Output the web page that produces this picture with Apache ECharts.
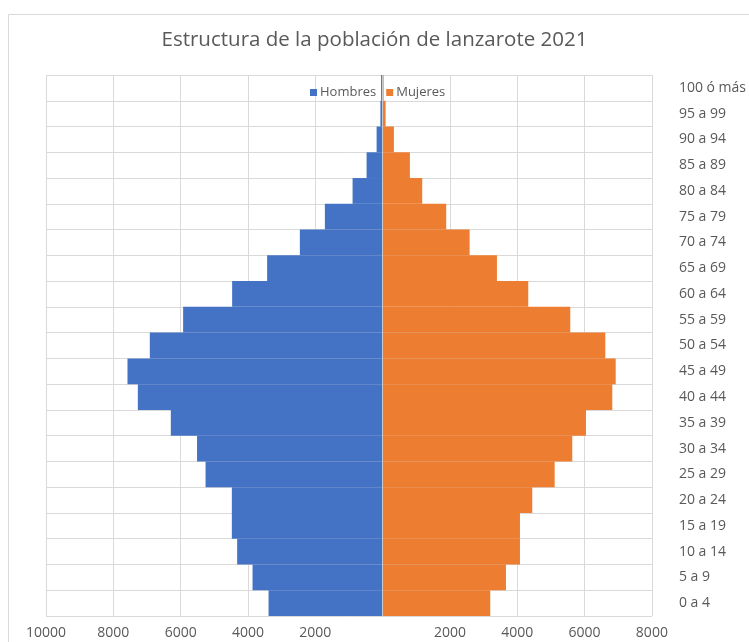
<!DOCTYPE html>
<html>
<head>
<meta charset="utf-8">
<script src="https://cdn.jsdelivr.net/npm/echarts@6/dist/echarts.min.js"></script>
<style>html,body{margin:0;padding:0;background:#fff}#c{width:749px;height:642px}</style>
</head>
<body>
<div id="c"></div>
<script>
var categories = ['0 a 4','5 a 9','10 a 14','15 a 19','20 a 24','25 a 29','30 a 34','35 a 39','40 a 44','45 a 49','50 a 54','55 a 59','60 a 64','65 a 69','70 a 74','75 a 79','80 a 84','85 a 89','90 a 94','95 a 99','100 ó más'];
var hombres = [3388,3864,4321,4479,4479,5260,5513,6292,7272,7579,6916,5926,4470,3430,2458,1715,892,476,178,65,45];
var mujeres = [3198,3665,4081,4081,4446,5112,5635,6042,6824,6925,6616,5575,4327,3397,2586,1890,1177,811,336,90,30];
var xTicks = {min:-10000, max:8000, interval:2000};
var titleText = 'Estructura de la población de lanzarote 2021';

var chart = echarts.init(document.getElementById('c'));
var font = '"Open Sans", sans-serif';
chart.setOption({
  animation:false,
  title:{text:titleText,left:'center',top:25,textStyle:{fontFamily:font,fontWeight:'normal',fontSize:20.5,color:'#595959'}},
  legend:{left:305,top:81,icon:'rect',itemWidth:7,itemHeight:7,itemGap:10,
    textStyle:{fontFamily:font,fontSize:13,color:'#595959',padding:[0,0,0,-2]},
    data:['Hombres','Mujeres']},
  graphic:[{type:'rect',shape:{x:8.5,y:14.5,width:800,height:700},style:{fill:'none',stroke:'#d9d9d9',lineWidth:1},silent:true}],
  grid:{left:46,right:97,top:75,bottom:26},
  xAxis:{type:'value',min:xTicks.min,max:xTicks.max,interval:xTicks.interval,
    axisLine:{show:false},axisTick:{show:false},
    splitLine:{show:true,lineStyle:{color:'#d9d9d9',width:1}},
    axisLabel:{margin:10,fontFamily:font,fontSize:14,color:'#595959',
      formatter:function(v){return v===0?'':String(Math.abs(v));}}},
  yAxis:{type:'category',data:categories,position:'right',
    axisLine:{show:false},axisTick:{show:false},
    splitLine:{show:true,lineStyle:{color:'#d9d9d9',width:1}},
    axisLabel:{margin:27,fontFamily:font,fontSize:14,color:'#595959'}},
  series:[
    {name:'Hombres',type:'bar',stack:'p',barCategoryGap:0,
     data:hombres.map(function(v){return -v;}),itemStyle:{color:'#4472C4'},
     markLine:{silent:true,symbol:'none',label:{show:false},lineStyle:{color:'#c8c8c8',type:'solid',width:1},data:[{xAxis:0}]}},
    {name:'Mujeres',type:'bar',stack:'p',barCategoryGap:0,
     data:mujeres,itemStyle:{color:'#ED7D31'}}
  ]
});
</script>
</body>
</html>
